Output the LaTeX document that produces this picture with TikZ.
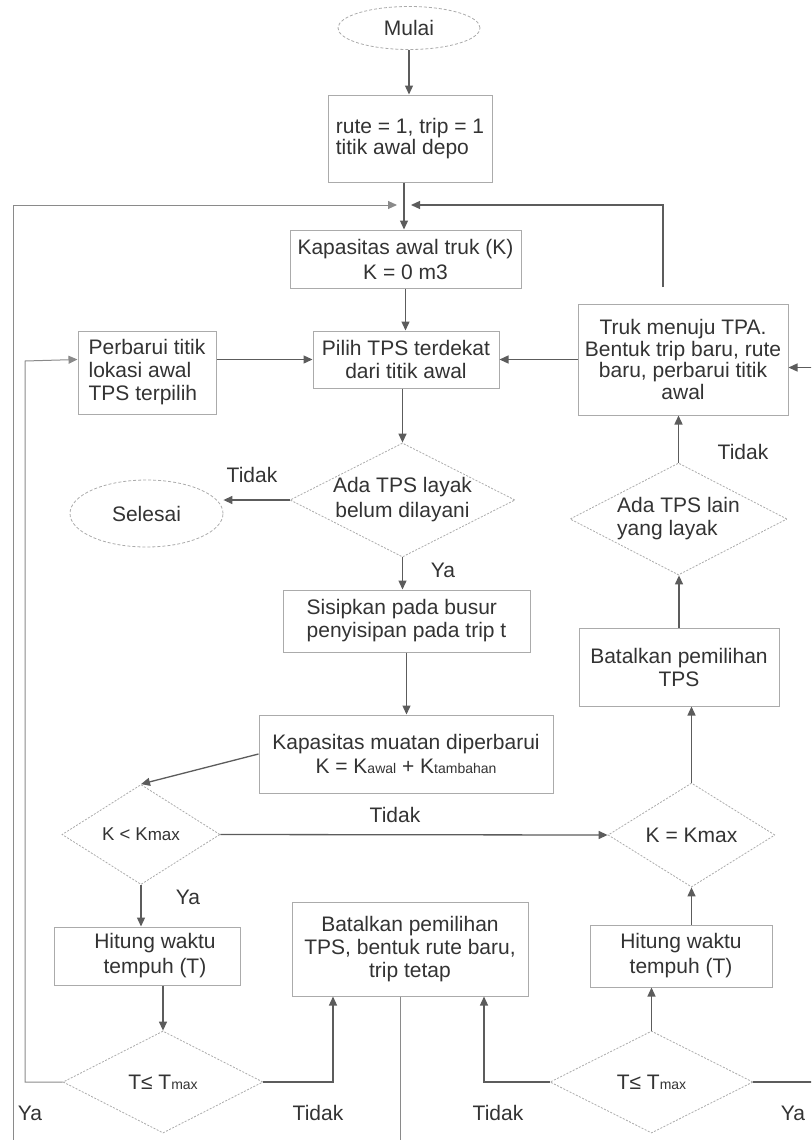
\documentclass[tikz,border=0pt]{standalone}
\usepackage{fontspec}
\setmainfont{Liberation Sans}
\usetikzlibrary{shapes.geometric,arrows.meta,calc}
\definecolor{txtc}{HTML}{333333}
\definecolor{lnc}{HTML}{5C5C5C}
\definecolor{lnl}{HTML}{8A8A8A}
\definecolor{bdc}{HTML}{ABABAB}
\newcommand{\smtxt}[1]{{\fontsize{14}{14}\selectfont #1}}
\begin{document}
\begin{tikzpicture}[x=1pt,y=-1pt,
  font=\fontsize{21}{23}\selectfont, text=txtc,
  stepbox/.style={draw=bdc, line width=1pt, inner sep=0pt, align=center, fill=white},
  dia/.style={diamond, draw=bdc, line width=0.8pt, dash pattern=on 2pt off 1.5pt, inner sep=0pt},
  term/.style={ellipse, draw=bdc, line width=0.8pt, dash pattern=on 3pt off 2pt, inner sep=0pt},
  conn/.style={draw=lnc, line width=1.3pt, -{Triangle[length=9pt,width=8pt]}},
  lightconn/.style={draw=lnl, line width=1pt, -{Triangle[length=9pt,width=8pt]}},
  lab/.style={inner sep=0pt},
  dt/.style={inner sep=0pt, align=center, text=txtc}
]
\useasboundingbox (0,0) rectangle (811,1140);
\clip (0,0) rectangle (811,1140);

% nodes
\node[term, minimum width=142pt, minimum height=43pt] (mulai) at (409,28) {Mulai};
\node[stepbox, minimum width=164pt, minimum height=87pt, align=left,
      font=\fontsize{21}{19}\selectfont] (box1) at (410,138.5) {rute = 1, trip = 1\\titik awal depo};
\node[stepbox, minimum width=231pt, minimum height=58pt, font=\fontsize{21}{25}\selectfont] (kap) at (405.5,259) {Kapasitas awal truk (K)\\K = 0 m3};
\node[stepbox, minimum width=138pt, minimum height=83pt, align=left] (per) at (147,372.5) {Perbarui titik\\lokasi awal\\TPS terpilih};
\node[stepbox, minimum width=186pt, minimum height=57pt] (pilih) at (406,359.5) {Pilih TPS terdekat\\dari titik awal};
\node[stepbox, minimum width=210pt, minimum height=111pt, font=\fontsize{21}{21.5}\selectfont] (truk) at (683,359.5) {Truk menuju TPA.\\Bentuk trip baru, rute\\baru, perbarui titik\\awal};
\node[dia, minimum width=225pt, minimum height=114pt,
      label={[dt,font=\fontsize{21}{25}\selectfont]center:{Ada TPS layak\\belum dilayani}}] (d1) at (402.5,500) {};
\node[term, minimum width=153pt, minimum height=67pt] (sel) at (146.5,513.5) {Selesai};
\node[stepbox, minimum width=247pt, minimum height=62pt, align=left] (sis) at (406.5,621) {Sisipkan pada busur\\penyisipan pada trip t};
\node[stepbox, minimum width=294pt, minimum height=78pt, font=\fontsize{21}{24}\selectfont] (km) at (406,754) {Kapasitas muatan diperbarui\\K = K\smtxt{awal} + K\smtxt{tambahan}};
\node[dia, minimum width=158pt, minimum height=100pt,
      label={[dt,font=\fontsize{18.5}{18.5}\selectfont]center:{K < K{\fontsize{17}{17}\selectfont max}}}] (kl) at (141,834.5) {};
\node[dia, minimum width=167pt, minimum height=104pt,
      label={[dt]center:{K = Kmax}}] (ke) at (691.5,835) {};
\node[stepbox, minimum width=200pt, minimum height=78pt] (batr) at (679,667) {Batalkan pemilihan\\TPS};
\node[dia, minimum width=217pt, minimum height=112pt,
      label={[dt,align=left]center:{Ada TPS lain\\yang layak}}] (d2) at (678.5,519) {};
\node[stepbox, minimum width=186pt, minimum height=58pt, font=\fontsize{21}{25}\selectfont] (hl) at (147,956) {\hspace*{16pt}Hitung waktu\\\hspace*{16pt}tempuh (T)};
\node[stepbox, minimum width=182pt, minimum height=62pt, font=\fontsize{21}{25}\selectfont] (hr) at (681,956) {Hitung waktu\\tempuh (T)};
\node[dia, minimum width=200pt, minimum height=102pt,
      label={[dt]center:{T≤ T\smtxt{max}}}] (tl) at (163,1082) {};
\node[dia, minimum width=203pt, minimum height=102pt,
      label={[dt]center:{T≤ T\smtxt{max}}}] (tr) at (651.5,1082) {};
\node[stepbox, minimum width=236pt, minimum height=94pt] (batm) at (410,949) {Batalkan pemilihan\\TPS, bentuk rute baru,\\trip tetap};

\coordinate (j) at (404,205);
\coordinate (rt) at (663,287);

% connectors
\draw[conn] (mulai.south) -- (mulai.south |- box1.north);
\draw[conn] (box1.south -| j) -- (kap.north -| j);
\draw[conn] (rt) |- ([xshift=7pt]j);
\draw[lightconn] ([xshift=-10pt]batm.south) -- ++(0,200) -| (13,205) -- ([xshift=-7pt]j);
\draw[conn] (kap.south) -- (kap.south |- pilih.north);
\draw[conn] (d1.north |- pilih.south) -- (d1.north);
\draw[conn] (d1.west) -- (d1.west -| sel.east);
\node[lab] at (252,475) {Tidak};
\draw[conn] (d1.south) -- (d1.south |- sis.north);
\node[lab] at (443,570) {Ya};
\draw[conn] (sis.south) -- (sis.south |- km.north);
\draw[conn] (km.west) -- (kl.north);
\draw[conn] (kl.east) -- (ke.west);
\node[lab] at (395,815) {Tidak};
\draw[conn] (kl.south) -- (kl.south |- hl.north);
\node[lab] at (188,897) {Ya};
\draw[conn] (tl.north |- hl.south) -- (tl.north);
\draw[lightconn] (tl.west) -| (25,361) -- (per.west |- pilih.west);
\node[lab] at (30,1113) {Ya};
\draw[conn] (tl.east) -| ([xshift=-77pt]batm.south);
\node[lab] at (318,1113) {Tidak};
\draw[conn] (tr.west) -| ([xshift=74pt]batm.south);
\node[lab] at (498,1113) {Tidak};
\draw[conn] (tr.east) -- ++(80,0) |- ([yshift=-8pt]truk.east);
\node[lab] at (793,1113) {Ya};
\draw[conn] (tr.north) -- (tr.north |- hr.south);
\draw[conn] (ke.south |- hr.north) -- (ke.south);
\draw[conn] (ke.north) -- (ke.north |- batr.south);
\draw[conn] (batr.north) -- (batr.north |- d2.south);
\draw[conn] (d2.north) -- (d2.north |- truk.south);
\node[lab] at (743,452) {Tidak};
\draw[conn] (truk.west) -- (pilih.east);
\draw[conn] (pilih.west -| per.east) -- (pilih.west);
\end{tikzpicture}
\end{document}
